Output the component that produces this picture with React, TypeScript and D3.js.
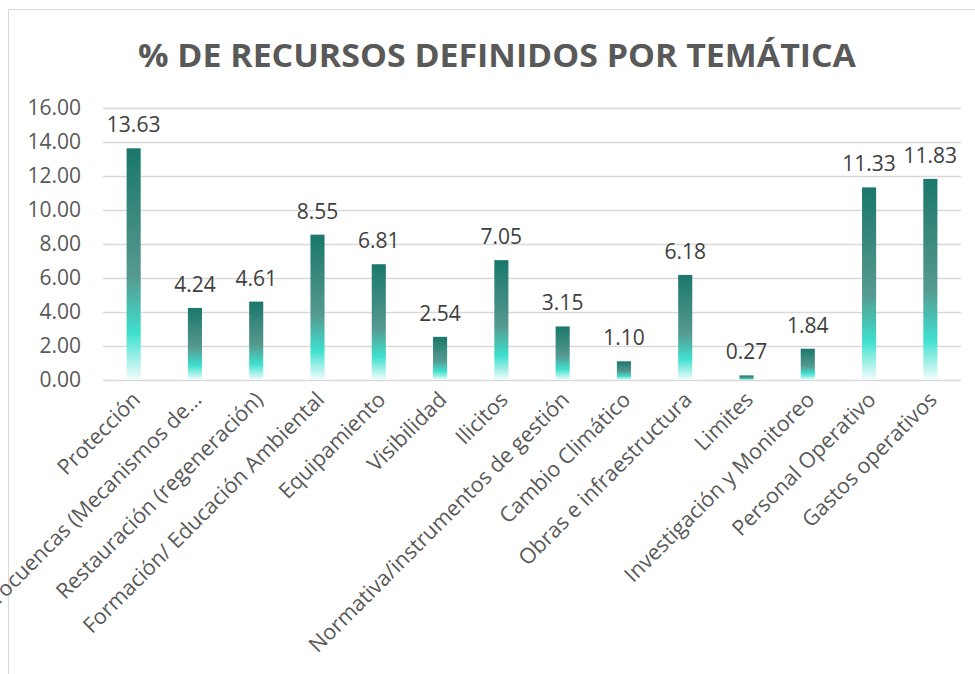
import React, { useEffect, useRef } from 'react';
import { axisLeft, scaleBand, scaleLinear, select } from 'd3';

const categories = [
  'Protección',
  'Microcuencas (Mecanismos de…',
  'Restauración (regeneración)',
  'Formación/ Educación Ambiental',
  'Equipamiento',
  'Visibilidad',
  'Ilicitos',
  'Normativa/instrumentos de gestión',
  'Cambio Climático',
  'Obras e infraestructura',
  'Limites',
  'Investigación y Monitoreo',
  'Personal Operativo',
  'Gastos operativos',
];
const values = [13.63, 4.24, 4.61, 8.55, 6.81, 2.54, 7.05, 3.15, 1.1, 6.18, 0.27, 1.84, 11.33, 11.83];
const yTicks = [0, 2, 4, 6, 8, 10, 12, 14, 16];

const W = 975;
const H = 674;
const margin = { top: 108, right: 14, bottom: 294, left: 103 };
const FONT = "'Open Sans', sans-serif";

const App: React.FC = () => {
  const svgRef = useRef<SVGSVGElement>(null);

  useEffect(() => {
    const svg = select(svgRef.current);
    svg.selectAll('*').remove();

    const x = scaleBand<string>()
      .domain(categories)
      .range([margin.left, W - margin.right])
      .paddingInner(0.77)
      .paddingOuter(0.385);
    const y = scaleLinear().domain([0, 16]).range([H - margin.bottom, margin.top]);

    // gradient for bars
    const defs = svg.append('defs');
    const grad = defs.append('linearGradient')
      .attr('id', 'barGrad')
      .attr('x1', 0).attr('y1', 0).attr('x2', 0).attr('y2', 1);
    grad.append('stop').attr('offset', '0%').attr('stop-color', '#1a776b');
    grad.append('stop').attr('offset', '55%').attr('stop-color', '#56998f');
    grad.append('stop').attr('offset', '80%').attr('stop-color', '#3fe0cf');
    grad.append('stop').attr('offset', '100%').attr('stop-color', '#f2fdfc');

    // frame
    svg.append('rect')
      .attr('x', 8.5).attr('y', 9.5)
      .attr('width', 1000).attr('height', 700)
      .attr('fill', 'white')
      .attr('stroke', '#d9d9d9');

    // title
    svg.append('text')
      .attr('x', 497).attr('y', 67)
      .attr('text-anchor', 'middle')
      .attr('font-family', FONT)
      .attr('font-weight', 700)
      .attr('font-size', 33)
      .attr('fill', '#595959')
      .attr('textLength', 718)
      .attr('lengthAdjust', 'spacingAndGlyphs')
      .text('% DE RECURSOS DEFINIDOS POR TEMÁTICA');

    // y axis + grid
    const yAxis = svg.append('g')
      .attr('transform', `translate(${margin.left},0)`)
      .call(axisLeft(y).tickValues(yTicks).tickFormat((d) => (d as number).toFixed(2)).tickSize(-(W - margin.right - margin.left)).tickPadding(22));
    yAxis.select('.domain').remove();
    yAxis.selectAll('.tick line').attr('stroke', '#d9d9d9').attr('stroke-width', 1.3);
    yAxis.selectAll('.tick text')
      .attr('font-family', FONT)
      .attr('font-size', 21)
      .attr('fill', '#595959');

    // bars
    svg.append('g')
      .selectAll('rect')
      .data(values)
      .join('rect')
      .attr('x', (_, i) => x(categories[i]) as number)
      .attr('y', (d) => y(d))
      .attr('width', x.bandwidth())
      .attr('height', (d) => y(0) - y(d))
      .attr('fill', 'url(#barGrad)');

    // value labels
    svg.append('g')
      .selectAll('text')
      .data(values)
      .join('text')
      .attr('x', (_, i) => (x(categories[i]) as number) + x.bandwidth() / 2)
      .attr('y', (d) => y(d) - 16)
      .attr('text-anchor', 'middle')
      .attr('font-family', FONT)
      .attr('font-size', 21)
      .attr('fill', '#404040')
      .text((d) => d.toFixed(2));

    // category labels
    svg.append('g')
      .selectAll('text')
      .data(categories)
      .join('text')
      .attr('transform', (d) => `translate(${(x(d) as number) + x.bandwidth() / 2 + 8},${y(0) + 21}) rotate(-45)`)
      .attr('text-anchor', 'end')
      .attr('font-family', FONT)
      .attr('font-size', 21.5)
      .attr('fill', '#595959')
      .text((d) => d);
  }, []);

  return (
    <svg
      ref={svgRef}
      width={W}
      height={H}
      style={{ position: 'absolute', left: 0, top: 0, background: 'white' }}
    />
  );
};

export default App;
